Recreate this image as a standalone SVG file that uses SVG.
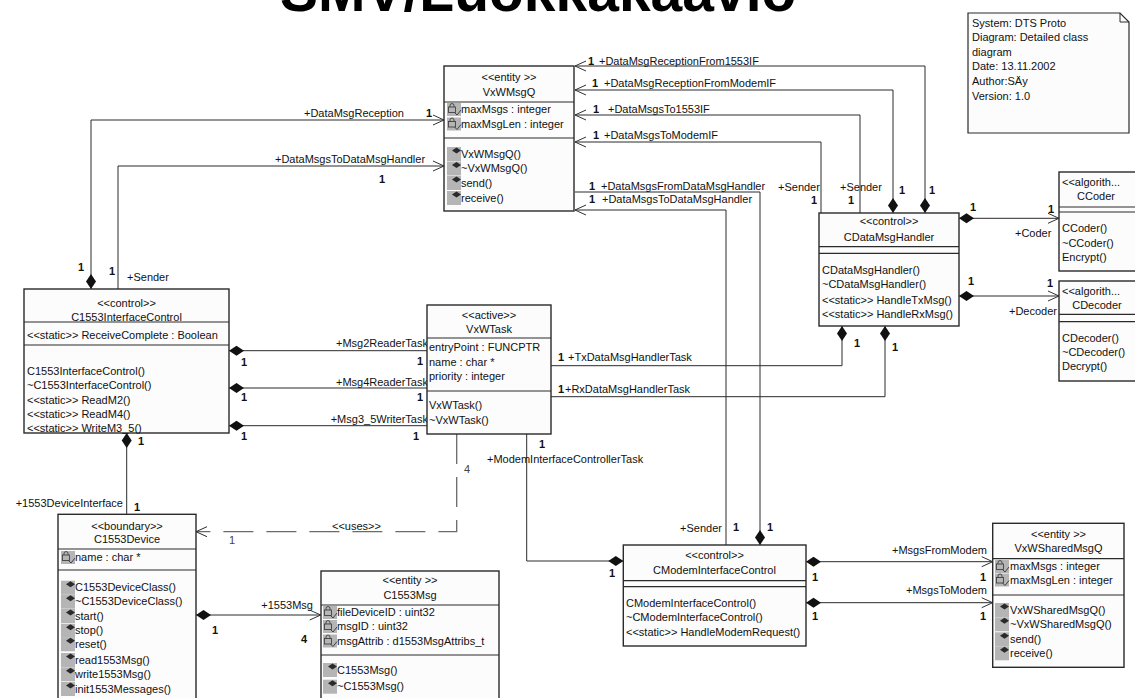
<svg xmlns="http://www.w3.org/2000/svg" width="1135" height="698" viewBox="0 0 1135 698">
<style>
text{font-family:"Liberation Sans",Arial,Helvetica,sans-serif;font-size:11px;fill:#111}
.c{text-anchor:middle}
.e{text-anchor:end}
.b{font-weight:bold}
.g{fill:#444}
.box{fill:#fcfcfc;stroke:#2a2a2a;stroke-width:1.4}
.sep{stroke:#2a2a2a;stroke-width:1.2}
.ln{fill:none;stroke:#2a2a2a;stroke-width:1}
.dash{fill:none;stroke:#6a6a6a;stroke-width:1.3;stroke-dasharray:30 13}
.title{font-size:57px;font-weight:bold;fill:#000}
</style>
<defs>
<marker id="dia" markerWidth="16" markerHeight="12" refX="0" refY="6" orient="auto" markerUnits="userSpaceOnUse"><path d="M0,6 L7.5,1 L15,6 L7.5,11 Z" fill="#111"/></marker>
<marker id="arr" markerWidth="14" markerHeight="14" refX="12" refY="7" orient="auto" markerUnits="userSpaceOnUse"><path d="M1,2 L12,7 L1,12" fill="none" stroke="#333" stroke-width="1"/></marker>
<g id="iop"><rect width="14" height="14" fill="#b5b5b5"/><path d="M5,3.5 L9.5,0.5 L14,3.5 L9.5,6.5 Z" fill="#2a2a2a"/></g>
<g id="iat"><rect width="14" height="13" fill="#b5b5b5"/><rect x="1.5" y="4" width="7" height="5.5" fill="none" stroke="#333" stroke-width="0.8"/><path d="M3,4 v-1.5 a2,2 0 0 1 4,0 v1.5" fill="none" stroke="#333" stroke-width="0.8"/><path d="M7.5,9.5 l2.5,2.5 l4,-5" fill="none" stroke="#333" stroke-width="0.9"/></g>
</defs>

<text class="title" x="280" y="11">SMV/Luokkakaavio</text>

<g id="note">
<path d="M968,13 H1120 L1129,22 V133 H968 Z" fill="#fcfcfc" stroke="#2a2a2a" stroke-width="1.2"/>
<path d="M1120,13 V22 H1129" fill="none" stroke="#2a2a2a" stroke-width="1"/>
<text x="972" y="26.5">System: DTS Proto</text>
<text x="972" y="40.5">Diagram: Detailed class</text>
<text x="972" y="55.5">diagram</text>
<text x="972" y="70">Date: 13.11.2002</text>
<text x="972" y="84.5">Author:SÄy</text>
<text x="972" y="99.5">Version: 1.0</text>
</g>

<g id="connectors">
<path class="ln" d="M925,213 V66 H575" marker-start="url(#dia)" marker-end="url(#arr)"/>
<path class="ln" d="M893,213 V90 H575" marker-start="url(#dia)" marker-end="url(#arr)"/>
<path class="ln" d="M860,213 V115 H575" marker-end="url(#arr)"/>
<path class="ln" d="M821,213 V142 H575" marker-end="url(#arr)"/>
<path class="ln" d="M760,545 V192 H575" marker-start="url(#dia)"/>
<path class="ln" d="M726,545 V210 H575" marker-end="url(#arr)"/>
<path class="ln" d="M91,289 V120 H444" marker-start="url(#dia)" marker-end="url(#arr)"/>
<path class="ln" d="M118,289 V166 H444" marker-end="url(#arr)"/>
<path class="ln" d="M229,350.7 H427" marker-start="url(#dia)"/>
<path class="ln" d="M229,388 H427" marker-start="url(#dia)"/>
<path class="ln" d="M229,425.7 H427" marker-start="url(#dia)"/>
<path class="ln" d="M842,326 V365.7 H551" marker-start="url(#dia)"/>
<path class="ln" d="M885,326 V396.7 H551" marker-start="url(#dia)"/>
<path class="ln" d="M959,218.3 H1059" marker-start="url(#dia)" marker-end="url(#arr)"/>
<path class="ln" d="M959,296 H1059" marker-start="url(#dia)" marker-end="url(#arr)"/>
<path class="ln" d="M126.7,433 V514.3" marker-start="url(#dia)"/>
<path class="ln" d="M196,615 H320.7" marker-start="url(#dia)" marker-end="url(#arr)"/>
<path class="dash" d="M456.7,434 V531.7 H196"/>
<path class="ln" d="M196,531.7 m11,-5 l-11,5 l11,5" stroke="#555"/>
<path class="ln" d="M623.3,561 H526.7 V434" marker-start="url(#dia)"/>
<path class="ln" d="M806,561.7 H992.7" marker-start="url(#dia)" marker-end="url(#arr)"/>
<path class="ln" d="M806,602.7 H992.7" marker-start="url(#dia)" marker-end="url(#arr)"/>

<text class="b" x="588" y="64.5">1</text><text x="599" y="64.5">+DataMsgReceptionFrom1553IF</text>
<text class="b" x="592" y="87">1</text><text x="604" y="87">+DataMsgReceptionFromModemIF</text>
<text class="b" x="593" y="113">1</text><text x="608" y="113">+DataMsgsTo1553IF</text>
<text class="b" x="593" y="139">1</text><text x="604" y="139">+DataMsgsToModemIF</text>
<text class="b" x="589" y="189.5">1</text><text x="601" y="189.5">+DataMsgsFromDataMsgHandler</text>
<text class="b" x="589" y="203">1</text><text x="602" y="203">+DataMsgsToDataMsgHandler</text>
<text class="b" x="929" y="194">1</text>
<text class="b" x="899" y="194">1</text>
<text x="840" y="190.5">+Sender</text><text class="b" x="848" y="204">1</text>
<text x="778" y="190.5">+Sender</text><text class="b" x="811" y="204">1</text>
<text x="304" y="117">+DataMsgReception</text><text class="b" x="426" y="117">1</text>
<text x="275" y="163">+DataMsgsToDataMsgHandler</text><text class="b" x="379" y="183">1</text>
<text class="b" x="78" y="271">1</text>
<text class="b" x="109" y="275">1</text><text x="127" y="280.5">+Sender</text>
<text class="e" x="428" y="346.5">+Msg2ReaderTask</text><text class="b" x="241" y="365.5">1</text><text class="b" x="417" y="365">1</text>
<text class="e" x="428" y="386">+Msg4ReaderTask</text><text class="b" x="241" y="401">1</text><text class="b" x="417" y="401">1</text>
<text class="e" x="428" y="423">+Msg3_5WriterTask</text><text class="b" x="241" y="440">1</text><text class="b" x="413" y="440">1</text>
<text class="b" x="558" y="361">1</text><text x="568" y="361">+TxDataMsgHandlerTask</text>
<text class="b" x="558" y="393">1</text><text x="565" y="393">+RxDataMsgHandlerTask</text>
<text class="b" x="854" y="346.5">1</text>
<text class="b" x="892" y="350.5">1</text>
<text class="b" x="970" y="210.5">1</text><text class="b" x="1048" y="213">1</text><text x="1015" y="237">+Coder</text>
<text class="b" x="968" y="284.5">1</text><text class="b" x="1047" y="287">1</text><text x="1009" y="315">+Decoder</text>
<text class="b" x="138" y="444.5">1</text>
<text class="e" x="123" y="507">+1553DeviceInterface</text><text class="b" x="134" y="510.5">1</text>
<text class="b" x="212" y="634">1</text><text class="e" x="313" y="608.5">+1553Msg</text><text class="b" x="301" y="643">4</text>
<text x="332" y="529.5">&lt;&lt;uses&gt;&gt;</text>
<text class="g" x="229" y="544">1</text>
<text class="g" x="464" y="473">4</text>
<text class="b" x="539" y="448">1</text>
<text x="487" y="463">+ModemInterfaceControllerTask</text>
<text class="b" x="609" y="577">1</text>
<text class="e" x="722" y="532">+Sender</text><text class="b" x="733" y="531">1</text>
<text class="b" x="767" y="531">1</text>
<text class="e" x="987" y="554">+MsgsFromModem</text><text class="b" x="812" y="580.5">1</text><text class="b" x="980" y="580.5">1</text>
<text class="e" x="987" y="594">+MsgsToModem</text><text class="b" x="812" y="619.5">1</text><text class="b" x="980" y="619.5">1</text>
</g>

<g id="VxWMsgQ">
<rect class="box" x="444" y="66" width="130" height="145"/>
<line class="sep" x1="444" y1="102" x2="574" y2="102"/>
<line class="sep" x1="444" y1="138" x2="574" y2="138"/>
<text class="c" x="509" y="81">&lt;&lt;entity &gt;&gt;</text>
<text class="c" x="509" y="96">VxWMsgQ</text>
<use href="#iat" x="447" y="103"/><use href="#iat" x="447" y="117.5"/>
<text x="461" y="113">maxMsgs : integer</text>
<text x="461" y="128">maxMsgLen : integer</text>
<use href="#iop" x="447" y="147"/><use href="#iop" x="447" y="161.5"/><use href="#iop" x="447" y="176"/><use href="#iop" x="447" y="191"/>
<text x="461" y="158">VxWMsgQ()</text>
<text x="461" y="172">~VxWMsgQ()</text>
<text x="461" y="187">send()</text>
<text x="461" y="202">receive()</text>
</g>

<g id="C1553InterfaceControl">
<rect class="box" x="24" y="289" width="205" height="144"/>
<line class="sep" x1="24" y1="322" x2="229" y2="322"/>
<line class="sep" x1="24" y1="345" x2="229" y2="345"/>
<text class="c" x="126.5" y="306.5">&lt;&lt;control&gt;&gt;</text>
<text class="c" x="126.5" y="320.5">C1553InterfaceControl</text>
<text x="27" y="339">&lt;&lt;static&gt;&gt; ReceiveComplete : Boolean</text>
<text x="27" y="374.5">C1553InterfaceControl()</text>
<text x="27" y="388.5">~C1553InterfaceControl()</text>
<text x="27" y="403.5">&lt;&lt;static&gt;&gt; ReadM2()</text>
<text x="27" y="418">&lt;&lt;static&gt;&gt; ReadM4()</text>
<text x="27" y="432">&lt;&lt;static&gt;&gt; WriteM3_5()</text>
</g>

<g id="VxWTask">
<rect class="box" x="427" y="305" width="124" height="129"/>
<line class="sep" x1="427" y1="338" x2="551" y2="338"/>
<line class="sep" x1="427" y1="391" x2="551" y2="391"/>
<text class="c" x="489" y="318.5">&lt;&lt;active&gt;&gt;</text>
<text class="c" x="489" y="332.5">VxWTask</text>
<text x="429" y="351">entryPoint : FUNCPTR</text>
<text x="429" y="365.5">name : char *</text>
<text x="429" y="379.5">priority : integer</text>
<text x="429" y="409">VxWTask()</text>
<text x="429" y="423.5">~VxWTask()</text>
</g>

<g id="CDataMsgHandler">
<rect class="box" x="819" y="213" width="140" height="113"/>
<line class="sep" x1="819" y1="246.7" x2="959" y2="246.7"/>
<line class="sep" x1="819" y1="253.3" x2="959" y2="253.3"/>
<text class="c" x="889" y="225">&lt;&lt;control&gt;&gt;</text>
<text class="c" x="889" y="240.5">CDataMsgHandler</text>
<text x="822" y="274">CDataMsgHandler()</text>
<text x="822" y="288">~CDataMsgHandler()</text>
<text x="822" y="303.5">&lt;&lt;static&gt;&gt; HandleTxMsg()</text>
<text x="822" y="318">&lt;&lt;static&gt;&gt; HandleRxMsg()</text>
</g>

<g id="CCoder">
<rect class="box" x="1059" y="172" width="90" height="99"/>
<line class="sep" x1="1059" y1="207" x2="1140" y2="207"/>
<line class="sep" x1="1059" y1="212" x2="1140" y2="212"/>
<text x="1062" y="186">&lt;&lt;algorith...</text>
<text class="c" x="1096" y="200">CCoder</text>
<text x="1062" y="232">CCoder()</text>
<text x="1062" y="247">~CCoder()</text>
<text x="1062" y="261">Encrypt()</text>
</g>

<g id="CDecoder">
<rect class="box" x="1059" y="281" width="90" height="100"/>
<line class="sep" x1="1059" y1="314.3" x2="1140" y2="314.3"/>
<line class="sep" x1="1059" y1="321.7" x2="1140" y2="321.7"/>
<text x="1062" y="294.5">&lt;&lt;algorith...</text>
<text class="c" x="1097" y="308.5">CDecoder</text>
<text x="1062" y="342">CDecoder()</text>
<text x="1062" y="356">~CDecoder()</text>
<text x="1062" y="370">Decrypt()</text>
</g>

<g id="C1553Device">
<rect class="box" x="58" y="514.3" width="138" height="200"/>
<line class="sep" x1="58" y1="549" x2="196" y2="549"/>
<line class="sep" x1="58" y1="570" x2="196" y2="570"/>
<text class="c" x="127" y="529.5">&lt;&lt;boundary&gt;&gt;</text>
<text class="c" x="127" y="543">C1553Device</text>
<use href="#iat" x="61" y="551"/>
<text x="75" y="561">name : char *</text>
<use href="#iop" x="61" y="580.7"/><use href="#iop" x="61" y="594.7"/><use href="#iop" x="61" y="609"/><use href="#iop" x="61" y="623.7"/>
<use href="#iop" x="61" y="637.3"/><use href="#iop" x="61" y="653"/><use href="#iop" x="61" y="667.3"/><use href="#iop" x="61" y="682"/>
<text x="75" y="591">C1553DeviceClass()</text>
<text x="75" y="605">~C1553DeviceClass()</text>
<text x="75" y="619.5">start()</text>
<text x="75" y="634">stop()</text>
<text x="75" y="648">reset()</text>
<text x="75" y="663.5">read1553Msg()</text>
<text x="75" y="678">write1553Msg()</text>
<text x="75" y="692.5">init1553Messages()</text>
</g>

<g id="C1553Msg">
<rect class="box" x="321" y="571" width="178" height="140"/>
<line class="sep" x1="321" y1="605" x2="499" y2="605"/>
<line class="sep" x1="321" y1="655" x2="499" y2="655"/>
<text class="c" x="410" y="584">&lt;&lt;entity &gt;&gt;</text>
<text class="c" x="410" y="598.5">C1553Msg</text>
<use href="#iat" x="323" y="606"/><use href="#iat" x="323" y="620"/><use href="#iat" x="323" y="634.5"/>
<text x="337" y="616">fileDeviceID : uint32</text>
<text x="337" y="630">msgID : uint32</text>
<text x="337" y="644.5">msgAttrib : d1553MsgAttribs_t</text>
<use href="#iop" x="323" y="663"/><use href="#iop" x="323" y="679.7"/>
<text x="337" y="673.5">C1553Msg()</text>
<text x="337" y="690">~C1553Msg()</text>
</g>

<g id="CModemInterfaceControl">
<rect class="box" x="623.3" y="545" width="182.7" height="101"/>
<line class="sep" x1="623.3" y1="580.7" x2="806" y2="580.7"/>
<line class="sep" x1="623.3" y1="586.7" x2="806" y2="586.7"/>
<text class="c" x="714.5" y="558.5">&lt;&lt;control&gt;&gt;</text>
<text class="c" x="714.5" y="573.5">CModemInterfaceControl</text>
<text x="626" y="606.5">CModemInterfaceControl()</text>
<text x="626" y="620.5">~CModemInterfaceControl()</text>
<text x="626" y="635.5">&lt;&lt;static&gt;&gt; HandleModemRequest()</text>
</g>

<g id="VxWSharedMsgQ">
<rect class="box" x="992.7" y="523.3" width="131.3" height="144"/>
<line class="sep" x1="992.7" y1="558.7" x2="1124" y2="558.7"/>
<line class="sep" x1="992.7" y1="595" x2="1124" y2="595"/>
<text class="c" x="1058.5" y="537.5">&lt;&lt;entity &gt;&gt;</text>
<text class="c" x="1058.5" y="552">VxWSharedMsgQ</text>
<use href="#iat" x="995" y="560"/><use href="#iat" x="995" y="573.5"/>
<text x="1010" y="570">maxMsgs : integer</text>
<text x="1010" y="583.5">maxMsgLen : integer</text>
<use href="#iop" x="995" y="603"/><use href="#iop" x="995" y="617.3"/><use href="#iop" x="995" y="632.3"/><use href="#iop" x="995" y="646.3"/>
<text x="1010" y="613.5">VxWSharedMsgQ()</text>
<text x="1010" y="628">~VxWSharedMsgQ()</text>
<text x="1010" y="643">send()</text>
<text x="1010" y="657">receive()</text>
</g>
</svg>
